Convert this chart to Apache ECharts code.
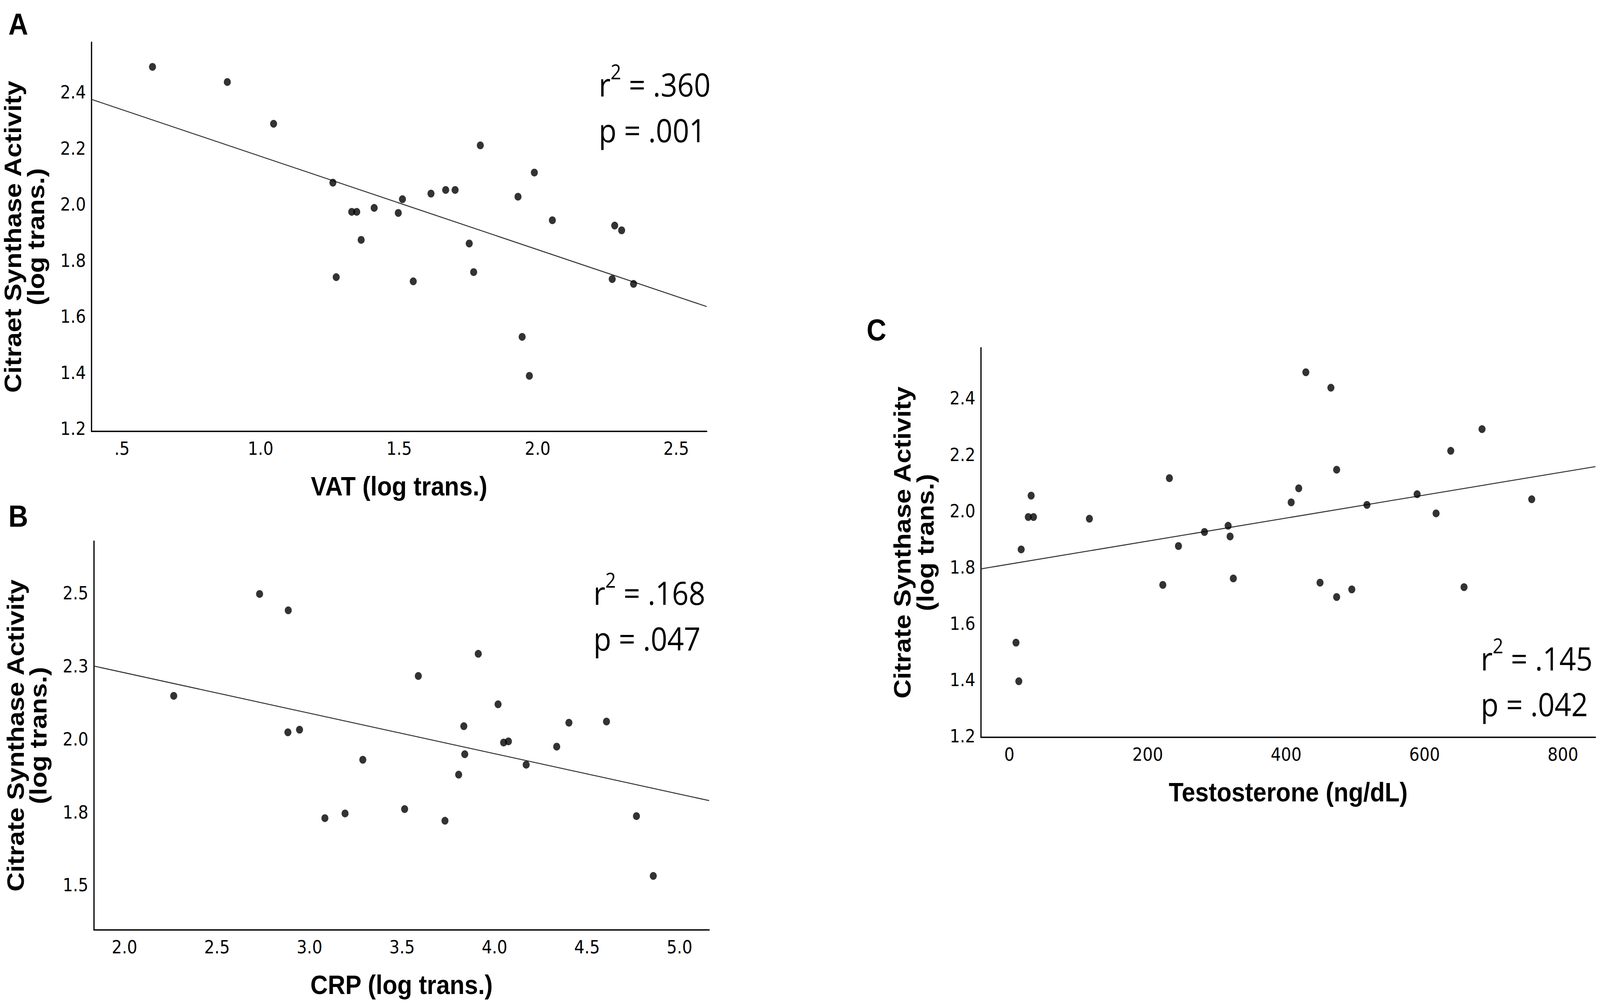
<!DOCTYPE html>
<html>
<head>
<meta charset="utf-8">
<script src="https://cdn.jsdelivr.net/npm/echarts@6/dist/echarts.min.js"></script>
<style>
html,body{margin:0;padding:0;background:#fff;overflow:hidden;}
#wrap{position:absolute;left:0;top:0;width:4562px;height:2567px;transform-origin:0 0;}
#chart{width:4562px;height:2567px;}
</style>
</head>
<body>
<div id="wrap"><div id="chart"></div></div>
<script>
// ---------- Panel A : VAT vs citrate synthase ----------
const vatA = [0.61,0.88,1.047,1.261,1.273,1.329,1.347,1.363,1.41,1.497,1.512,1.551,1.615,1.668,1.702,1.753,1.769,1.793,1.929,1.944,1.97,1.988,2.053,2.269,2.278,2.303,2.346];
const csA  = [2.49,2.436,2.287,2.077,1.74,1.973,1.973,1.873,1.987,1.969,2.018,1.725,2.038,2.051,2.051,1.86,1.758,2.21,2.027,1.527,1.388,2.113,1.943,1.733,1.924,1.907,1.716];
const fitAx = [0.39, 2.61];
const fitAy = [2.374, 1.635];
const xTicksA = [0.5,1.0,1.5,2.0,2.5];
const xTickLabelsA = ['.5','1.0','1.5','2.0','2.5'];
const yTicksA = [1.2,1.4,1.6,1.8,2.0,2.2,2.4];
const yTickLabelsA = ['1.2','1.4','1.6','1.8','2.0','2.2','2.4'];
const statsA = ['.360','.001'];

// ---------- Panel B : CRP vs citrate synthase ----------
const crpB = [2.266,2.73,2.885,2.883,2.946,3.083,3.192,3.288,3.514,3.588,3.732,3.806,3.834,3.839,3.912,4.019,4.049,4.075,4.171,4.336,4.402,4.605,4.767,4.858];
const csB  = [2.148,2.497,2.441,2.023,2.032,1.729,1.745,1.929,1.76,2.216,1.72,1.878,2.044,1.948,2.292,2.119,1.988,1.992,1.912,1.974,2.056,2.06,1.736,1.531];
const fitBx = [1.835, 5.16];
const fitBy = [2.250, 1.789];
const xTicksB = [2.0,2.5,3.0,3.5,4.0,4.5,5.0];
const xTickLabelsB = ['2.0','2.5','3.0','3.5','4.0','4.5','5.0'];
const yTicksB = [1.5,1.75,2.0,2.25,2.5];
const yTickLabelsB = ['1.5','1.8','2.0','2.3','2.5'];
const statsB = ['.168','.047'];

// ---------- Panel C : Testosterone vs citrate synthase ----------
const testoC = [9.6,13.7,17.1,27.4,34.9,31.5,115.7,221.8,231.3,244.4,282.0,316.2,319.0,323.7,407.3,418.2,428.5,449.0,464.7,473.0,473.0,494.9,516.8,589.3,616.7,637.9,657.1,683.1,754.9];
const csC    = [1.532,1.395,1.863,1.978,1.978,2.054,1.972,1.737,2.116,1.875,1.925,1.947,1.909,1.76,2.03,2.08,2.492,1.745,2.437,2.146,1.694,1.721,2.021,2.059,1.991,2.213,1.729,2.29,2.041];
const fitCx = [-41, 847];
const fitCy = [1.794, 2.157];
const xTicksC = [0,200,400,600,800];
const xTickLabelsC = ['0','200','400','600','800'];
const yTicksC = [1.2,1.4,1.6,1.8,2.0,2.2,2.4];
const yTickLabelsC = ['1.2','1.4','1.6','1.8','2.0','2.2','2.4'];
const statsC = ['.145','.042'];

const panelLetters = ['A','B','C'];
const xTitles = ['VAT (log trans.)','CRP (log trans.)','Testosterone (ng/dL)'];
const yTitles = ['Citraet Synthase Activity\n(log trans.)','Citrate Synthase Activity\n(log trans.)','Citrate Synthase Activity\n(log trans.)'];

// ---------- fit the 4562x2567 drawing to the actual window ----------
const sx = window.innerWidth / 4562;
const sy = window.innerHeight / 2567;
document.getElementById('wrap').style.transform = 'scale(' + sx + ',' + sy + ')';

// ---------- build option ----------
const TICK_FONT = 'DejaVu Sans';
const TITLE_FONT = 'Liberation Sans';
const STAT_FONT = 'Open Sans';

function fmt(ticks, labels){
  return function(v){
    const i = ticks.findIndex(t => Math.abs(t - v) < 1e-6);
    return i >= 0 ? labels[i] : '';
  };
}
function xAxisCfg(gi, min, max, ticks, labels, name){
  return {
    type:'value', gridIndex:gi, min:min, max:max, name:name,
    nameLocation:'middle', nameGap:106,
    nameTextStyle:{fontFamily:TITLE_FONT, fontWeight:'bold', fontSize:69, lineHeight:69, color:'#000'},
    axisLine:{show:true, onZero:false, lineStyle:{color:'#000', width:3.5}},
    axisTick:{show:false},
    splitLine:{show:false},
    axisLabel:{customValues:ticks, formatter:fmt(ticks, labels), margin:21,
      fontFamily:TICK_FONT, fontSize:46, lineHeight:46, color:'#000', hideOverlap:false}
  };
}
function yAxisCfg(gi, min, max, ticks, labels, name){
  return {
    type:'value', gridIndex:gi, min:min, max:max, name:name,
    nameLocation:'middle', nameRotate:90, nameGap:126,
    nameTextStyle:{fontFamily:TITLE_FONT, fontWeight:'bold', fontSize:68, lineHeight:65, color:'#000', align:'center'},
    axisLine:{show:true, onZero:false, lineStyle:{color:'#000', width:3.5}},
    axisTick:{show:false},
    splitLine:{show:false},
    axisLabel:{customValues:ticks, formatter:fmt(ticks, labels), margin:16,
      fontFamily:TICK_FONT, fontSize:46, lineHeight:46, color:'#000', hideOverlap:false}
  };
}
function zip(a, b){ return a.map((v, i) => [v, b[i]]); }
function scatter(gi, xs, ys){
  return {type:'scatter', xAxisIndex:gi, yAxisIndex:gi, data:zip(xs, ys),
    symbol:'circle', symbolSize:20, itemStyle:{color:'#000'}, silent:true, z:3};
}
function fit(gi, xs, ys){
  return {type:'line', xAxisIndex:gi, yAxisIndex:gi, data:zip(xs, ys),
    symbol:'none', lineStyle:{color:'#333', width:2.5}, silent:true, z:2, animation:false};
}
function stat(x, top, vals){
  return {type:'text', left:x, top:top, silent:true,
    style:{
      text:'{b|r}{s|2}{b| = ' + vals[0] + '}\n{b|p = ' + vals[1] + '}',
      rich:{
        b:{fontFamily:STAT_FONT, fontSize:83, lineHeight:117, fill:'#000'},
        s:{fontFamily:STAT_FONT, fontSize:53, lineHeight:87, verticalAlign:'top', fill:'#000'}
      },
      fill:'#000'
    }};
}
function letter(x, top, t){
  return {type:'text', left:x, top:top, silent:true,
    style:{text:t, fontFamily:TITLE_FONT, fontWeight:'bold', fontSize:78, lineHeight:78, fill:'#000'}};
}

const option = {
  backgroundColor:'#fff',
  animation:false,
  grid:[
    {left:261, top:108, width:1754, height:996},
    {left:268, top:1385, width:1754, height:995},
    {left:2797, top:890, width:1752, height:997}
  ],
  xAxis:[
    xAxisCfg(0, 0.39, 2.61, xTicksA, xTickLabelsA, xTitles[0]),
    xAxisCfg(1, 1.835, 5.16, xTicksB, xTickLabelsB, xTitles[1]),
    xAxisCfg(2, -41, 847, xTicksC, xTickLabelsC, xTitles[2])
  ],
  yAxis:[
    yAxisCfg(0, 1.19, 2.578, yTicksA, yTickLabelsA, yTitles[0]),
    yAxisCfg(1, 1.346, 2.678, yTicksB, yTickLabelsB, yTitles[1]),
    yAxisCfg(2, 1.196, 2.579, yTicksC, yTickLabelsC, yTitles[2])
  ],
  series:[
    fit(0, fitAx, fitAy), scatter(0, vatA, csA),
    fit(1, fitBx, fitBy), scatter(1, crpB, csB),
    fit(2, fitCx, fitCy), scatter(2, testoC, csC)
  ],
  graphic:[
    letter(24, 23, panelLetters[0]),
    letter(24, 1282, panelLetters[1]),
    letter(2471, 805, panelLetters[2]),
    stat(1707, 156, statsA),
    stat(1692, 1457, statsB),
    stat(4222, 1625, statsC)
  ]
};

const chart = echarts.init(document.getElementById('chart'), null, {renderer:'svg'});
chart.setOption(option);
</script>
</body>
</html>
